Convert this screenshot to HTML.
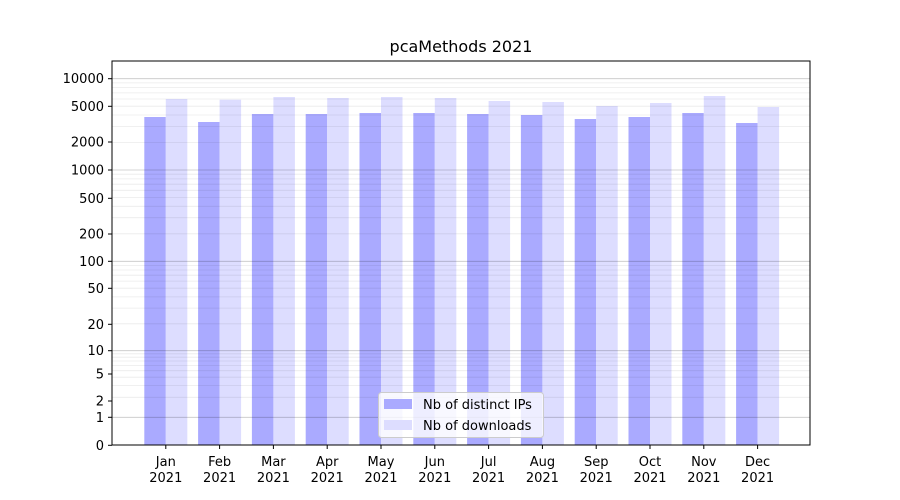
<!DOCTYPE html>
<html><head><meta charset="utf-8"><style>
html,body{margin:0;padding:0;background:#fff;}
svg{display:block;font-family:"DejaVu Sans","Liberation Sans",sans-serif;}
</style></head><body>
<svg width="900" height="500" viewBox="0 0 900 500" xmlns="http://www.w3.org/2000/svg">
<rect width="900" height="500" fill="#fff"/>
<g fill="#aaaaff">
<rect x="144.3" y="117" width="21.5" height="328"/>
<rect x="198.1" y="122" width="21.5" height="323"/>
<rect x="251.9" y="114" width="21.5" height="331"/>
<rect x="305.7" y="114" width="21.5" height="331"/>
<rect x="359.5" y="113" width="21.5" height="332"/>
<rect x="413.3" y="113" width="21.5" height="332"/>
<rect x="467.1" y="114" width="21.5" height="331"/>
<rect x="520.9" y="115" width="21.5" height="330"/>
<rect x="574.7" y="119" width="21.5" height="326"/>
<rect x="628.5" y="117" width="21.5" height="328"/>
<rect x="682.3" y="113" width="21.5" height="332"/>
<rect x="736.1" y="123" width="21.5" height="322"/>
</g>
<g fill="#ddddff">
<rect x="165.8" y="99" width="21.5" height="346"/>
<rect x="219.6" y="99.7" width="21.5" height="345.3"/>
<rect x="273.4" y="97" width="21.5" height="348"/>
<rect x="327.2" y="98" width="21.5" height="347"/>
<rect x="381" y="97" width="21.5" height="348"/>
<rect x="434.8" y="98" width="21.5" height="347"/>
<rect x="488.6" y="101" width="21.5" height="344"/>
<rect x="542.4" y="102" width="21.5" height="343"/>
<rect x="596.2" y="106" width="21.5" height="339"/>
<rect x="650" y="103" width="21.5" height="342"/>
<rect x="703.8" y="96" width="21.5" height="349"/>
<rect x="757.6" y="107" width="21.5" height="338"/>
</g>
<g stroke="#000" stroke-opacity="0.08" stroke-width="0.8">
<line x1="112" x2="810" y1="397.3" y2="397.3"/><line x1="112" x2="810" y1="385.5" y2="385.5"/><line x1="112" x2="810" y1="377.2" y2="377.2"/><line x1="112" x2="810" y1="370.7" y2="370.7"/><line x1="112" x2="810" y1="365.5" y2="365.5"/><line x1="112" x2="810" y1="361" y2="361"/><line x1="112" x2="810" y1="357.2" y2="357.2"/><line x1="112" x2="810" y1="353.8" y2="353.8"/>
<line x1="112" x2="810" y1="323.8" y2="323.8"/><line x1="112" x2="810" y1="308.1" y2="308.1"/><line x1="112" x2="810" y1="296.9" y2="296.9"/><line x1="112" x2="810" y1="288.2" y2="288.2"/><line x1="112" x2="810" y1="281.1" y2="281.1"/><line x1="112" x2="810" y1="275.2" y2="275.2"/><line x1="112" x2="810" y1="270" y2="270"/><line x1="112" x2="810" y1="265.4" y2="265.4"/>
<line x1="112" x2="810" y1="233.8" y2="233.8"/><line x1="112" x2="810" y1="217.7" y2="217.7"/><line x1="112" x2="810" y1="206.3" y2="206.3"/><line x1="112" x2="810" y1="197.5" y2="197.5"/><line x1="112" x2="810" y1="190.3" y2="190.3"/><line x1="112" x2="810" y1="184.2" y2="184.2"/><line x1="112" x2="810" y1="178.9" y2="178.9"/><line x1="112" x2="810" y1="174.2" y2="174.2"/>
<line x1="112" x2="810" y1="142.5" y2="142.5"/><line x1="112" x2="810" y1="126.4" y2="126.4"/><line x1="112" x2="810" y1="115" y2="115"/><line x1="112" x2="810" y1="106.2" y2="106.2"/><line x1="112" x2="810" y1="99" y2="99"/><line x1="112" x2="810" y1="92.9" y2="92.9"/><line x1="112" x2="810" y1="87.6" y2="87.6"/><line x1="112" x2="810" y1="82.9" y2="82.9"/>
</g>
<g stroke="#000" stroke-opacity="0.22" stroke-width="0.8">
<line x1="112" x2="810" y1="417.3" y2="417.3"/><line x1="112" x2="810" y1="350.7" y2="350.7"/><line x1="112" x2="810" y1="261.3" y2="261.3"/><line x1="112" x2="810" y1="170" y2="170"/><line x1="112" x2="810" y1="78.7" y2="78.7"/>
</g>
<rect x="112" y="61" width="698" height="384" fill="none" stroke="#000" stroke-width="1"/>
<g stroke="#000">
<line x1="108" x2="112" y1="78.7" y2="78.7"/><line x1="108" x2="112" y1="106.3" y2="106.3"/><line x1="108" x2="112" y1="142" y2="142"/><line x1="108" x2="112" y1="170" y2="170"/><line x1="108" x2="112" y1="198.3" y2="198.3"/><line x1="108" x2="112" y1="234" y2="234"/><line x1="108" x2="112" y1="261.3" y2="261.3"/><line x1="108" x2="112" y1="288.3" y2="288.3"/><line x1="108" x2="112" y1="324.3" y2="324.3"/><line x1="108" x2="112" y1="350.7" y2="350.7"/><line x1="108" x2="112" y1="374" y2="374"/><line x1="108" x2="112" y1="401" y2="401"/><line x1="108" x2="112" y1="417.3" y2="417.3"/><line x1="108" x2="112" y1="445.3" y2="445.3"/>
<line x1="165.8" x2="165.8" y1="445" y2="449"/><line x1="219.6" x2="219.6" y1="445" y2="449"/><line x1="273.4" x2="273.4" y1="445" y2="449"/><line x1="327.2" x2="327.2" y1="445" y2="449"/><line x1="381" x2="381" y1="445" y2="449"/><line x1="434.8" x2="434.8" y1="445" y2="449"/><line x1="488.6" x2="488.6" y1="445" y2="449"/><line x1="542.4" x2="542.4" y1="445" y2="449"/><line x1="596.2" x2="596.2" y1="445" y2="449"/><line x1="650" x2="650" y1="445" y2="449"/><line x1="703.8" x2="703.8" y1="445" y2="449"/><line x1="757.6" x2="757.6" y1="445" y2="449"/>
</g>
<g font-size="13" text-anchor="end">
<text x="104" y="83.2">10000</text><text x="104" y="110.8">5000</text><text x="104" y="146.5">2000</text><text x="104" y="174.5">1000</text><text x="104" y="202.8">500</text><text x="104" y="238.5">200</text><text x="104" y="265.8">100</text><text x="104" y="292.8">50</text><text x="104" y="328.8">20</text><text x="104" y="355.2">10</text><text x="104" y="378.5">5</text><text x="104" y="405.5">2</text><text x="104" y="421.8">1</text><text x="104" y="449.8">0</text>
</g>
<g font-size="13" text-anchor="middle">
<text x="165.8" y="466">Jan</text><text x="219.6" y="466">Feb</text><text x="273.4" y="466">Mar</text><text x="327.2" y="466">Apr</text><text x="381" y="466">May</text><text x="434.8" y="466">Jun</text><text x="488.6" y="466">Jul</text><text x="542.4" y="466">Aug</text><text x="596.2" y="466">Sep</text><text x="650" y="466">Oct</text><text x="703.8" y="466">Nov</text><text x="757.6" y="466">Dec</text>
<text x="165.8" y="482">2021</text><text x="219.6" y="482">2021</text><text x="273.4" y="482">2021</text><text x="327.2" y="482">2021</text><text x="381" y="482">2021</text><text x="434.8" y="482">2021</text><text x="488.6" y="482">2021</text><text x="542.4" y="482">2021</text><text x="596.2" y="482">2021</text><text x="650" y="482">2021</text><text x="703.8" y="482">2021</text><text x="757.6" y="482">2021</text>
</g>
<text x="461" y="52" text-anchor="middle" font-size="16">pcaMethods 2021</text>
<rect x="378.5" y="392.5" width="165" height="45" rx="3" fill="#fff" fill-opacity="0.8" stroke="#ccc"/>
<rect x="384" y="399" width="28" height="10" fill="#aaaaff"/>
<rect x="384" y="420" width="28" height="10" fill="#ddddff"/>
<text x="423" y="409" font-size="13">Nb of distinct IPs</text>
<text x="423" y="430" font-size="13">Nb of downloads</text>
</svg>
</body></html>
